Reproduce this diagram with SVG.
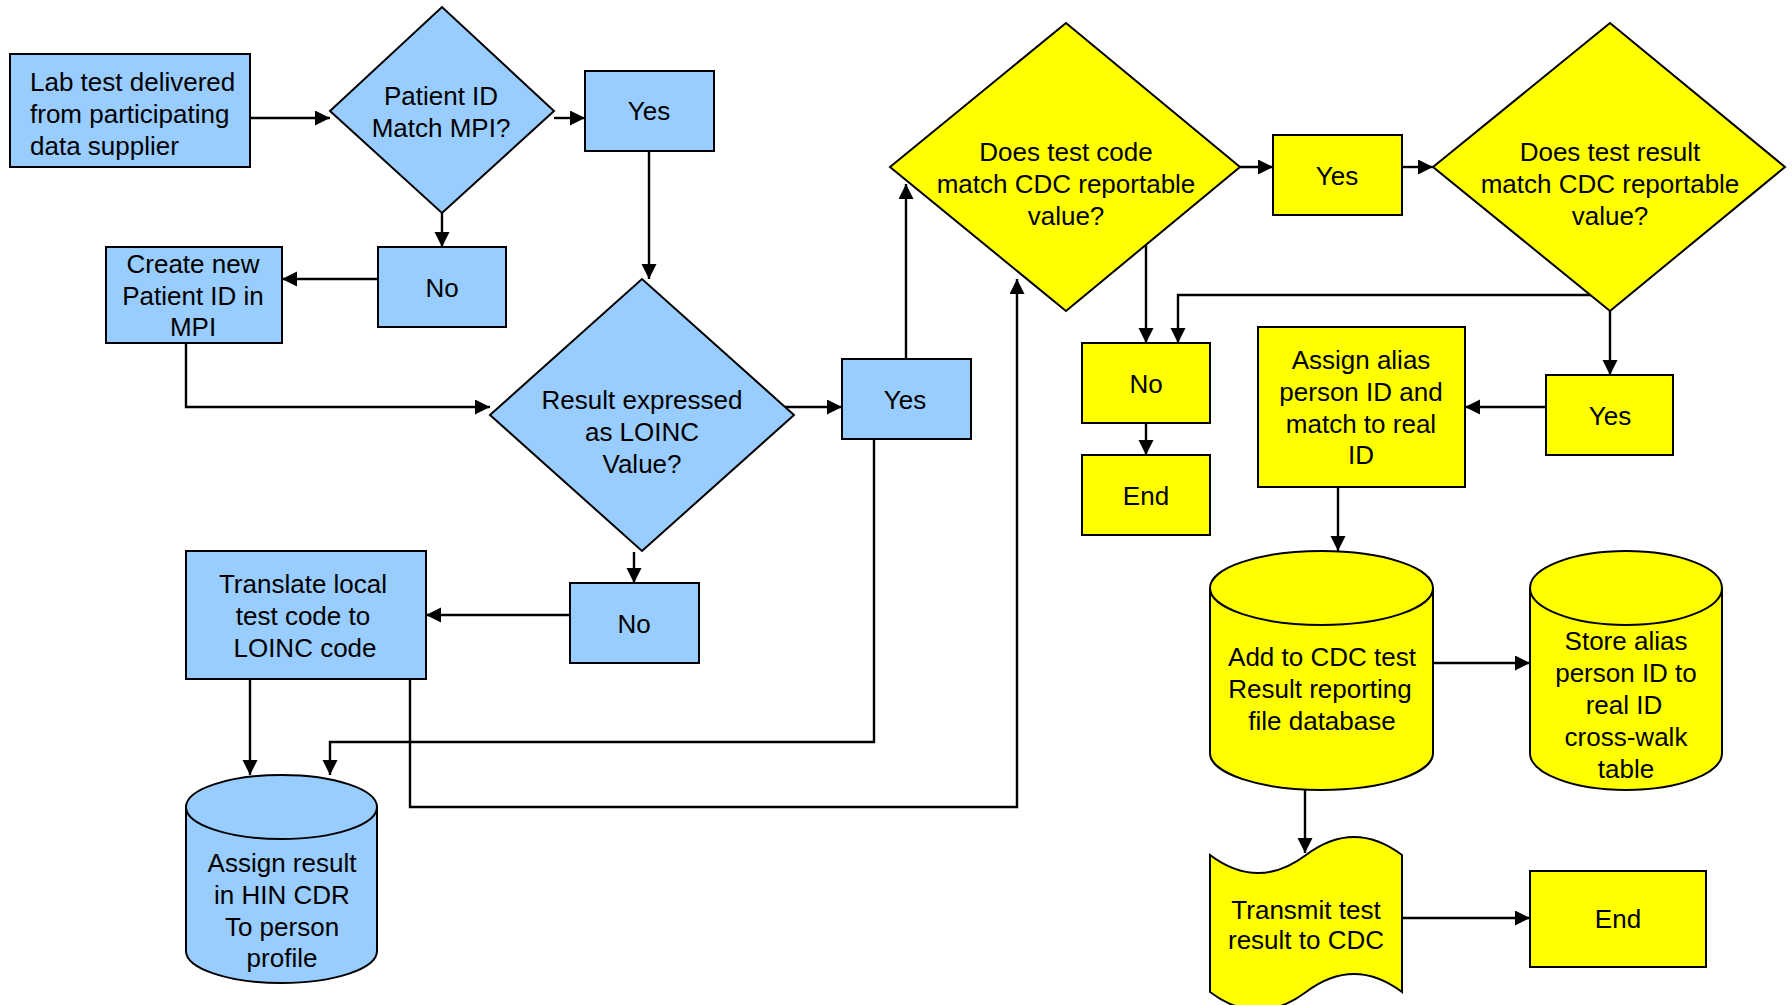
<svg xmlns="http://www.w3.org/2000/svg" width="1792" height="1005" viewBox="0 0 1792 1005">
<style>
.b{fill:#99CCFF;stroke:#000;stroke-width:2}
.y{fill:#FFFF00;stroke:#000;stroke-width:2}
.e{fill:none;stroke:#000;stroke-width:2}
text{font-family:"Liberation Sans",Arial,sans-serif;font-size:26px;fill:#000;text-anchor:middle}
.c path{fill:none;stroke:#000;stroke-width:2.4;marker-end:url(#ah)}
</style>
<defs>
<marker id="ah" markerUnits="userSpaceOnUse" markerWidth="16" markerHeight="16" refX="15" refY="7.5" orient="auto">
<path d="M0,0 L15,7.5 L0,15 Z" fill="#000"/>
</marker>
</defs>
<rect width="1792" height="1005" fill="#fff"/>

<g class="c" id="connectors">
<path d="M250,118 H330"/>
<path d="M554,118 H585"/>
<path d="M649,151 V279"/>
<path d="M442,213 V247"/>
<path d="M378,279 H282"/>
<path d="M186,343 V407 H490"/>
<path d="M780,407 H842"/>
<path d="M906,359 V184"/>
<path d="M634,552 V583"/>
<path d="M570,615 H426"/>
<path d="M250,679 V775"/>
<path d="M874,439 V742 H330 V775"/>
<path d="M410,679 V807 H1017 V279"/>
<path d="M1240,167 H1273"/>
<path d="M1402,167 H1433"/>
<path d="M1146,245 V343"/>
<path d="M1595,295 H1178 V343"/>
<path d="M1146,423 V455"/>
<path d="M1610,311 V375"/>
<path d="M1546,407 H1465"/>
<path d="M1338,487 V551"/>
<path d="M1433,663 H1530"/>
<path d="M1305,790 V853"/>
<path d="M1402,918 H1530"/>
</g>

<g id="lab">
<rect class="b" x="10" y="54" width="240" height="113"/>
<text style="text-anchor:start" x="30" y="91">Lab test delivered</text>
<text style="text-anchor:start" x="30" y="123">from participating</text>
<text style="text-anchor:start" x="30" y="155">data supplier</text>
</g>

<g id="d1">
<polygon class="b" points="330,111 442,7 554,111 442,213"/>
<text x="441" y="105">Patient ID</text>
<text x="441" y="137">Match MPI?</text>
</g>

<g id="yes1">
<rect class="b" x="585" y="71" width="129" height="80"/>
<text x="649" y="120">Yes</text>
</g>

<g id="no1">
<rect class="b" x="378" y="247" width="128" height="80"/>
<text x="442" y="297">No</text>
</g>

<g id="create">
<rect class="b" x="106" y="247" width="176" height="96"/>
<text x="193" y="273">Create new</text>
<text x="193" y="305">Patient ID in</text>
<text x="193" y="336">MPI</text>
</g>

<g id="d2">
<polygon class="b" points="490,415 642,279 794,415 642,551"/>
<text x="642" y="409">Result expressed</text>
<text x="642" y="441">as LOINC</text>
<text x="642" y="473">Value?</text>
</g>

<g id="yes2">
<rect class="b" x="842" y="359" width="129" height="80"/>
<text x="905" y="409">Yes</text>
</g>

<g id="no2">
<rect class="b" x="570" y="583" width="129" height="80"/>
<text x="634" y="633">No</text>
</g>

<g id="translate">
<rect class="b" x="186" y="551" width="240" height="128"/>
<text x="303" y="593">Translate local</text>
<text x="303" y="625">test code to</text>
<text x="305" y="657">LOINC code</text>
</g>

<g id="cyl1">
<path class="b" d="M186,807 A95.5,32 0 0,1 377,807 V951 A95.5,32 0 0,1 186,951 Z"/>
<path class="e" d="M186,807 A95.5,32 0 0,0 377,807"/>
<text x="282" y="872">Assign result</text>
<text x="282" y="904">in HIN CDR</text>
<text x="282" y="936">To person</text>
<text x="282" y="967">profile</text>
</g>

<g id="d3">
<polygon class="y" points="890,167 1066,23 1240,167 1066,311"/>
<text x="1066" y="161">Does test code</text>
<text x="1066" y="193">match CDC reportable</text>
<text x="1066" y="225">value?</text>
</g>

<g id="yes3">
<rect class="y" x="1273" y="135" width="129" height="80"/>
<text x="1337" y="185">Yes</text>
</g>

<g id="d4">
<polygon class="y" points="1433,167 1610,23 1785,167 1610,311"/>
<text x="1610" y="161">Does test result</text>
<text x="1610" y="193">match CDC reportable</text>
<text x="1610" y="225">value?</text>
</g>

<g id="no3">
<rect class="y" x="1082" y="343" width="128" height="80"/>
<text x="1146" y="393">No</text>
</g>

<g id="end1">
<rect class="y" x="1082" y="455" width="128" height="80"/>
<text x="1146" y="505">End</text>
</g>

<g id="assign">
<rect class="y" x="1258" y="327" width="207" height="160"/>
<text x="1361" y="369">Assign alias</text>
<text x="1361" y="401">person ID and</text>
<text x="1361" y="433">match to real</text>
<text x="1361" y="464">ID</text>
</g>

<g id="yes4">
<rect class="y" x="1546" y="375" width="127" height="80"/>
<text x="1610" y="425">Yes</text>
</g>

<g id="cyl2">
<path class="y" d="M1210,588 A111.5,37 0 0,1 1433,588 V753 A111.5,37 0 0,1 1210,753 Z"/>
<path class="e" d="M1210,588 A111.5,37 0 0,0 1433,588"/>
<text x="1322" y="666">Add to CDC test</text>
<text x="1320" y="698">Result reporting</text>
<text x="1322" y="730">file database</text>
</g>

<g id="cyl3">
<path class="y" d="M1530,588 A96,37 0 0,1 1722,588 V753 A96,37 0 0,1 1530,753 Z"/>
<path class="e" d="M1530,588 A96,37 0 0,0 1722,588"/>
<text x="1626" y="650">Store alias</text>
<text x="1626" y="682">person ID to</text>
<text x="1624" y="714">real ID</text>
<text x="1626" y="746">cross-walk</text>
<text x="1626" y="778">table</text>
</g>

<g id="transmit">
<path class="y" d="M1210,855 Q1258,891 1306,855 Q1354,819 1402,855 L1402,992 Q1354,956 1306,992 Q1258,1028 1210,992 Z"/>
<text x="1306" y="919">Transmit test</text>
<text x="1306" y="949">result to CDC</text>
</g>

<g id="end2">
<rect class="y" x="1530" y="871" width="176" height="96"/>
<text x="1618" y="928">End</text>
</g>
</svg>
